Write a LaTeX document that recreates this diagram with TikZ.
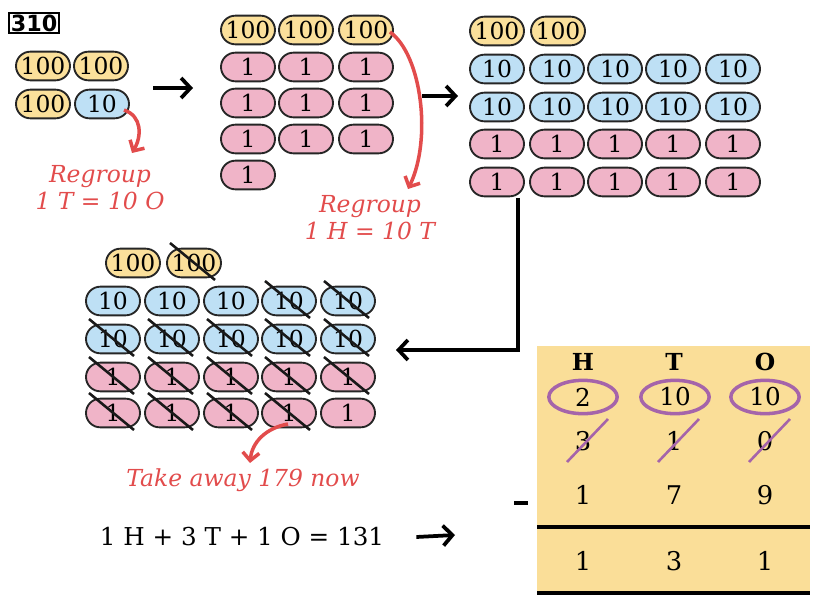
\documentclass[tikz,border=0pt]{standalone}
\usepackage{fontspec}
\setmainfont{DejaVu Serif}
\newfontfamily\qnofont{DejaVu Sans}
\usetikzlibrary{arrows.meta,shapes.misc,shapes.geometric,calc}
\definecolor{hundFill}{RGB}{251,224,155}
\definecolor{tenFill}{RGB}{190,224,245}
\definecolor{oneFill}{RGB}{240,180,200}
\definecolor{tableFill}{RGB}{250,222,152}
\definecolor{redInk}{RGB}{226,76,76}
\definecolor{purpleInk}{RGB}{165,100,170}

\begin{document}
\begin{tikzpicture}[x=0.03cm,y=-0.03cm,
    pill/.style={rounded rectangle,draw=black!85,line width=1.6pt,
                 minimum width=1.62cm,minimum height=0.86cm,inner sep=0pt,
                 font=\fontsize{20}{20}\selectfont},
    hund/.style={pill,fill=hundFill},
    ten/.style={pill,fill=tenFill},
    one/.style={pill,fill=oneFill},
    gone/.style={line width=2.2pt,black!90},
    bigar/.style={-{Straight Barb[length=2.8mm,width=6mm]},line width=3.2pt},
    redar/.style={-{Straight Barb[length=2.4mm,width=5mm]},redInk,line width=3pt},
    note/.style={redInk,font=\fontsize{20}{23}\selectfont\itshape,align=center},
    ring/.style={ellipse,draw=purpleInk,line width=3pt,minimum width=2.05cm,
                 minimum height=1cm,inner sep=0pt,font=\fontsize{21}{21}\selectfont},
    cell/.style={font=\fontsize{22}{22}\selectfont},
    slash/.style={purpleInk,line width=2.2pt}]
  \useasboundingbox (0,0) rectangle (819,598);

  % question number
  \node[draw,line width=1.4pt,inner sep=1.5pt,
        font=\qnofont\bfseries\fontsize{19}{19}\selectfont] (qno) at (34,23) {310};

  % 310 as blocks
  \node[hund] (a1) at (43,66) {100};
  \node[hund] (a2) at (101,66) {100};
  \node[hund] (a3) at (43,104) {100};
  \node[ten]  (a4) at (102,104) {10};
  \node[note] (regA) at (100,188) {Regroup\\1 T = 10 O};
  \coordinate (aTip) at (132,153);
  \draw[redar] ($(a4.center)+(22,6)$) .. controls (142,116) and (142,136) .. (aTip);

  \coordinate (s1) at (153,88);
  \coordinate (s2) at (193,88);
  \draw[bigar] (s1) -- (s2);

  % after regrouping tens
  \foreach \x [count=\i] in {248,306,366}
    \node[hund] (bh\i) at (\x,30) {100};
  \foreach \y [count=\r] in {67,103,139}
    \foreach \x [count=\c] in {248,306,366}
      \node[one] (bo\r\c) at (\x,\y) {1};
  \node[one] (bo41) at (248,175) {1};
  \node[note] (regB) at (370,218) {Regroup\\1 H = 10 T};
  \coordinate (bTip) at (408,189);
  \draw[redar] ($(bh3.east)+(-4,2)$) .. controls (422,55) and (432,140) .. (bTip);

  \coordinate (s3) at (422,96);
  \coordinate (s4) at (458,96);
  \draw[bigar] (s3) -- (s4);

  % after regrouping hundreds
  \foreach \x [count=\i] in {497,558}
    \node[hund] (ch\i) at (\x,31) {100};
  \foreach \y [count=\r] in {69,107}
    \foreach \x [count=\c] in {497,557,615,673,733}
      \node[ten] (ct\r\c) at (\x,\y) {10};
  \foreach \y [count=\r] in {144,182}
    \foreach \x [count=\c] in {497,557,615,673,733}
      \node[one] (co\r\c) at (\x,\y) {1};

  \coordinate (cDown) at (518,198);
  \coordinate (dIn) at (396,350);
  \draw[bigar] (cDown) |- (dIn);

  % taking away 179
  \foreach \x [count=\i] in {133,194}
    \node[hund] (dh\i) at (\x,263) {100};
  \foreach \y [count=\r] in {301,339}
    \foreach \x [count=\c] in {113,172,231,289,348}
      \node[ten] (dt\r\c) at (\x,\y) {10};
  \foreach \y [count=\r] in {377,413}
    \foreach \x [count=\c] in {113,172,231,289,348}
      \node[one] (do\r\c) at (\x,\y) {1};
  \foreach \n in {dh2,dt14,dt15,dt21,dt22,dt23,dt24,dt25,
                  do11,do12,do13,do14,do15,do21,do22,do23,do24}
    \draw[gone] ([shift={(-24,-20)}]\n.center) -- ([shift={(21,17)}]\n.center);

  \node[note] (take) at (243,480) {Take away 179 now};
  \coordinate (dTip) at (250,463);
  \draw[redar] ($(do24.center)+(-1,11)$) .. controls (266,428) and (252,442) .. (dTip);

  \node[font=\fontsize{21}{21}\selectfont] (eq) at (242,537) {1 H + 3 T + 1 O = 131};
  \coordinate (tIn) at (455,535);
  \draw[bigar] ([xshift=24]eq.east) -- (tIn);

  % place value table
  \fill[tableFill] (537,346) rectangle (810,592);
  \foreach \x/\t in {583/H,674/T,765/O}
    \node[font=\bfseries\fontsize{20}{20}\selectfont] (hd\t) at (\x,362) {\t};
  \node[ring] (r1) at (583,397) {2};
  \node[ring] (r2) at (675,397) {10};
  \node[ring] (r3) at (765,397) {10};
  \foreach \x/\v [count=\i] in {583/3,674/1,765/0}
    \node[cell] (old\i) at (\x,441) {\v};
  \foreach \i in {1,2,3}
    \draw[slash] ([shift={(-16,21)}]old\i.center) -- ([shift={(25,-22)}]old\i.center);
  \foreach \x/\v [count=\i] in {583/1,674/7,765/9}
    \node[cell] (sub\i) at (\x,495) {\v};
  \node[fill=black,minimum width=0.42cm,minimum height=0.11cm,inner sep=0pt] (minus) at (521,503) {};
  \draw[line width=2.6pt] (537,527) -- (810,527);
  \foreach \x/\v [count=\i] in {583/1,674/3,765/1}
    \node[cell] (res\i) at (\x,561) {\v};
  \draw[line width=2.6pt] (537,593) -- (810,593);
\end{tikzpicture}
\end{document}
